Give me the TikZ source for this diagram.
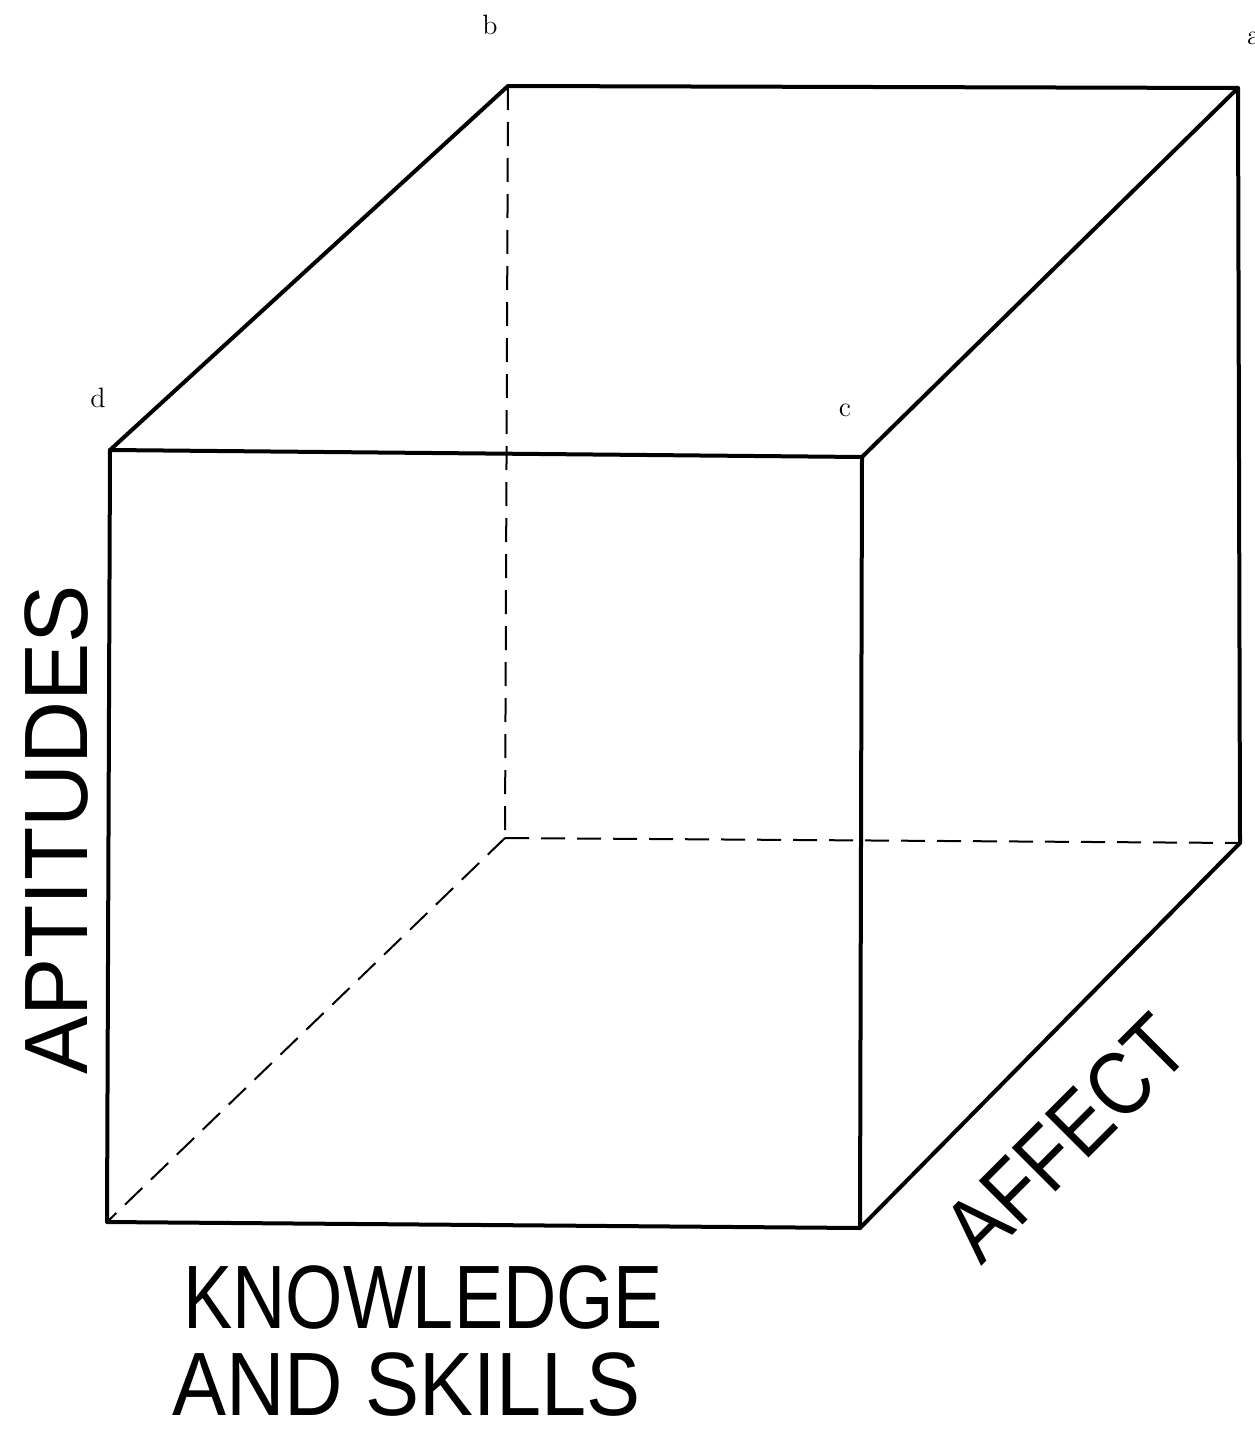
\documentclass[tikz,border=0pt]{standalone}
\usepackage{fontspec}
\newfontfamily\handfont{Liberation Sans}
\usepackage{tikz}
\usetikzlibrary{positioning,calc}

\begin{document}
\begin{tikzpicture}[
  x=0.5pt, y=-0.5pt,
  % Styles
  edge/.style={line width=2pt, line join=round, line cap=round},
  hidden/.style={line width=1pt, dash pattern=on 12pt off 6pt},
  corner/.style={font=\fontsize{14}{14}\selectfont, inner sep=0pt},
  axislabel/.style={font=\handfont\fontsize{45}{50}\selectfont, inner sep=0pt, align=left}
]
  \useasboundingbox (0,0) rectangle (1254,1429);

  % ============================================
  % Corners of the cube
  % ============================================
  \coordinate (fTL) at (110,450);
  \coordinate (fTR) at (862,457);
  \coordinate (fBR) at (860,1228);
  \coordinate (fBL) at (107,1222);
  \coordinate (bTL) at (508,86);
  \coordinate (bTR) at (1238,88);
  \coordinate (bBR) at (1240,843);
  \coordinate (bBL) at (505,838);

  % ============================================
  % Visible edges
  % ============================================
  \draw[edge] (fTL) -- (fTR) -- (fBR) -- (fBL) -- cycle;
  \draw[edge] (fTL) -- (bTL) -- (bTR) -- (fTR);
  \draw[edge] (bTR) -- (bBR) -- (fBR);

  % Hidden edges
  \draw[hidden] (bTL) -- (bBL);
  \draw[hidden] (bBL) -- (bBR);
  \draw[hidden] (bBL) -- (fBL);

  % ============================================
  % Corner letters
  % ============================================
  \node[corner] (lblb) at (490,25) {b};
  \node[corner] (lbla) at (1254,38) {a};
  \node[corner] (lbld) at (98,398) {d};
  \node[corner] (lblc) at (845,410) {c};

  % ============================================
  % Axis labels
  % ============================================
  \node[axislabel, rotate=90] (apt) at (57,830) {\scalebox{0.97}[1]{APTITUDES}};
  \node[axislabel, anchor=west] (know) at (183,1298) {\scalebox{0.82}[1]{KNOWLEDGE}};
  \node[axislabel, anchor=west] (skills) at (172,1385) {\scalebox{0.9}[1]{AND SKILLS}};
  \node[axislabel, rotate=45] (aff) at (1066,1138) {\scalebox{0.86}[1]{AFFECT}};

\end{tikzpicture}
\end{document}
